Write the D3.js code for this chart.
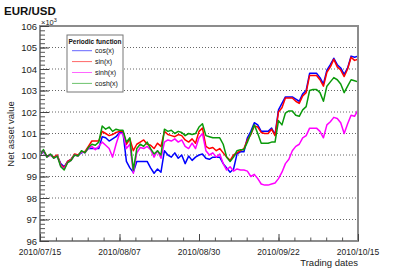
<!DOCTYPE html>
<html>
<head>
<meta charset="utf-8">
<script src="https://cdn.jsdelivr.net/npm/d3@7"></script>
<style>
  body { margin: 0; background: #fff; }
  svg { display: block; font-family: "Liberation Sans", Arial, Helvetica, sans-serif; }
</style>
</head>
<body>
<div id="chart"></div>
<script>
// trading dates, one per day from 2010/07/15 to 2010/10/15
const startDate = new Date(Date.UTC(2010, 6, 15));
const endDate = new Date(Date.UTC(2010, 9, 15));
const tradingDates = d3.utcDay.range(startDate, d3.utcDay.offset(endDate, 1));

const cosValues = [
  100.0, 100.15, 99.95, 100.0, 99.9, 99.95, 99.6, 99.45, 99.7, 99.8, 100.0, 100.0, 100.1, 100.15, 100.3, 100.3, 100.3, 100.3,
  100.85, 100.8, 100.65, 100.75, 100.85, 101.05, 101.05,
  99.7, 99.4, 99.2, 99.7, 99.7, 99.7, 99.7, 99.4, 99.15, 99.35, 99.2,
  100.2, 100.0, 99.9, 100.1, 99.85, 100.0, 99.6, 99.95, 99.75, 99.9, 100.0, 100.05,
  99.85, 99.8, 99.9, 99.9, 99.9, 99.6, 99.4, 99.2, 99.35, 100.05, 100.15, 100.15,
  100.8, 101.1, 101.5, 101.4, 101.1, 101.1, 101.1, 101.25, 100.95,
  102.1, 102.4, 102.7, 102.7, 102.7, 102.6, 102.5, 102.85, 103.0,
  103.8, 103.8, 103.8, 103.6, 103.3, 103.95, 104.2, 104.5, 104.2, 104.05, 103.75, 104.05, 104.6, 104.55, 104.6
];
const sinValues = [
  100.0, 100.2, 99.95, 100.0, 99.9, 100.0, 99.55, 99.4, 99.7, 99.8, 100.05, 100.0, 100.15, 100.15, 100.4, 100.65, 100.65, 100.65,
  101.1, 101.0, 100.9, 100.95, 101.05, 101.1, 101.1,
  100.5, 100.75, 100.2, 100.5, 100.6, 100.7, 100.5, 100.45, 100.3, 100.55, 100.4,
  101.1, 100.95, 100.9, 100.85, 100.95, 100.9, 100.7, 100.6, 100.75, 100.55, 101.1, 101.25,
  100.4, 100.3, 100.35, 100.2, 100.3, 100.1, 99.9, 99.75, 100.0, 100.1, 100.2, 100.3,
  100.7, 100.95, 101.35, 101.3, 101.05, 101.0, 101.0, 101.2, 100.9,
  102.0, 102.2, 102.65, 102.65, 102.65, 102.5, 102.4, 102.75, 102.9,
  103.7, 103.7, 103.7, 103.5, 103.2, 103.85, 104.1, 104.45, 104.1, 103.95, 103.65, 104.0, 104.55, 104.4, 104.45
];
const sinhValues = [
  100.0, 100.2, 99.9, 100.0, 99.85, 99.95, 99.5, 99.35, 99.65, 99.75, 100.0, 99.95, 100.15, 100.1, 100.3, 100.4, 100.25, 100.4,
  100.6, 100.45, 100.3, 99.9, 100.5, 101.0, 101.0,
  100.3, 100.5, 99.15, 100.1, 100.35, 100.3, 100.4, 100.25, 99.9, 100.2, 99.85,
  100.6, 100.7, 100.65, 100.75, 100.6, 100.7, 100.4, 100.3, 100.55, 100.3, 100.8, 101.0,
  100.2, 100.0, 100.1, 99.9, 100.05, 99.6, 99.3, 99.45, 99.25, 99.35, 99.3, 99.3,
  99.25, 99.0, 99.1, 98.9, 98.65, 98.6, 98.6, 98.65, 98.7,
  98.9, 99.2, 99.6, 99.8, 100.2, 100.4, 100.5, 100.8, 100.9,
  101.25, 101.25, 101.25, 101.1, 100.8, 101.4, 101.55, 101.75, 101.7, 101.5, 101.0, 101.45, 101.85, 101.8, 102.1
];
const coshValues = [
  100.0, 100.25, 99.9, 100.05, 99.85, 99.95, 99.45, 99.3, 99.65, 99.75, 100.0, 99.95, 100.2, 100.1, 100.35, 100.5, 100.45, 100.6,
  101.35, 101.2, 101.3, 101.1, 101.2, 101.15, 101.15,
  100.6, 100.8, 99.3, 100.3, 100.5, 100.4, 100.6, 100.3, 100.05, 100.2, 100.0,
  101.2, 101.1, 101.15, 101.0, 101.1, 101.05, 100.9, 101.0, 100.95, 101.0, 101.3, 101.45,
  100.9, 100.85, 100.8, 100.8, 100.8, 100.5, 99.9, 99.7, 99.9, 100.2, 100.25, 100.25,
  100.6, 101.0, 101.4, 101.0, 100.55, 100.55, 100.55, 100.6, 100.6,
  101.6, 101.4, 101.95, 102.05, 102.05, 101.85, 101.8, 102.1, 102.25,
  103.0, 103.05, 103.05, 102.9, 102.5, 103.2, 103.4, 103.6, 103.5, 103.3, 102.9, 103.2, 103.5, 103.45, 103.4
];

const seriesNames = ['cos(x)', 'sin(x)', 'sinh(x)', 'cosh(x)'];
const seriesValues = [cosValues, sinValues, sinhValues, coshValues];
const seriesColors = ['#0000ff', '#ff0000', '#ff00ff', '#0a9a0a'];
const yTickValues = [96, 97, 98, 99, 100, 101, 102, 103, 104, 105, 106];
const dateTickLabels = ['2010/07/15', '2010/08/07', '2010/08/30', '2010/09/22', '2010/10/15'];

const width = 399, height = 270;
const margin = {top: 26, right: 41, bottom: 29, left: 40};

const svg = d3.select('#chart').append('svg')
  .attr('width', width)
  .attr('height', height);

const x = d3.scaleUtc()
  .domain([startDate, endDate])
  .range([margin.left, width - margin.right]);
const y = d3.scaleLinear()
  .domain([96, 106])
  .range([height - margin.bottom, margin.top]);

// dotted horizontal grid
svg.append('g')
  .selectAll('line')
  .data(yTickValues.slice(1, -1))
  .enter().append('line')
  .attr('x1', margin.left).attr('x2', width - margin.right)
  .attr('y1', d => y(d)).attr('y2', d => y(d))
  .attr('stroke', '#666')
  .attr('stroke-width', 1)
  .attr('stroke-dasharray', '1,2');

// series
const line = d3.line()
  .x((d, i) => x(tradingDates[i]))
  .y(d => y(d));

seriesValues.forEach((vals, k) => {
  svg.append('path')
    .datum(vals)
    .attr('fill', 'none')
    .attr('stroke', seriesColors[k])
    .attr('stroke-width', 1.5)
    .attr('stroke-linejoin', 'round')
    .attr('d', line);
});

// frame
svg.append('rect')
  .attr('x', margin.left).attr('y', margin.top)
  .attr('width', width - margin.left - margin.right)
  .attr('height', height - margin.top - margin.bottom)
  .attr('fill', 'none')
  .attr('stroke', '#8c8c8c')
  .attr('stroke-width', 2);

// y axis
const yMinor = d3.range(96, 106.001, 0.2);
const yAxis = d3.axisRight(y)
  .tickValues(yMinor)
  .tickSize(5)
  .tickFormat('');
svg.append('g')
  .attr('transform', `translate(${margin.left},0)`)
  .call(yAxis)
  .call(g => g.select('.domain').remove())
  .call(g => g.selectAll('line').attr('stroke', '#555'));
svg.append('g')
  .attr('transform', `translate(${margin.left},0)`)
  .call(d3.axisRight(y).tickValues(yTickValues).tickSize(9).tickFormat(''))
  .call(g => g.select('.domain').remove())
  .call(g => g.selectAll('line').attr('stroke', '#444'));
svg.append('g')
  .selectAll('text')
  .data(yTickValues)
  .enter().append('text')
  .attr('x', margin.left - 3)
  .attr('y', d => y(d) + 3.5)
  .attr('text-anchor', 'end')
  .attr('font-size', 9.5)
  .attr('fill', '#222')
  .text(d => d);

// x axis
const totalDays = d3.utcDay.count(startDate, endDate);
const xMinor = d3.range(0, 21).map(i => new Date(+startDate + i * totalDays / 20 * 864e5));
const xMajor = dateTickLabels.map(s => d3.utcParse('%Y/%m/%d')(s));
svg.append('g')
  .attr('transform', `translate(0,${height - margin.bottom})`)
  .call(d3.axisTop(x).tickValues(xMinor).tickSize(3.5).tickFormat(''))
  .call(g => g.select('.domain').remove())
  .call(g => g.selectAll('line').attr('stroke', '#555'));
svg.append('g')
  .attr('transform', `translate(0,${height - margin.bottom})`)
  .call(d3.axisTop(x).tickValues(xMajor).tickSize(7).tickFormat(''))
  .call(g => g.select('.domain').remove())
  .call(g => g.selectAll('line').attr('stroke', '#444'));
svg.append('g')
  .selectAll('text')
  .data(xMajor)
  .enter().append('text')
  .attr('x', d => x(d))
  .attr('y', height - margin.bottom + 14)
  .attr('text-anchor', 'middle')
  .attr('font-size', 8.5)
  .attr('fill', '#222')
  .text(d => d3.utcFormat('%Y/%m/%d')(d));

// titles
svg.append('text')
  .attr('x', 4).attr('y', 14.5)
  .attr('font-size', 11.5)
  .attr('font-weight', 'bold')
  .attr('fill', '#111')
  .text('EUR/USD');

const exp = svg.append('text')
  .attr('x', margin.left + 1).attr('y', 25)
  .attr('font-size', 7.5)
  .attr('fill', '#222');
exp.append('tspan').text('×10');
exp.append('tspan').attr('dy', -3).attr('font-size', 5.5).text('3');

svg.append('text')
  .attr('transform', `translate(14,${134}) rotate(-90)`)
  .attr('text-anchor', 'middle')
  .attr('font-size', 9.5)
  .attr('fill', '#222')
  .text('Net asset value');

svg.append('text')
  .attr('x', width - margin.right)
  .attr('y', 266)
  .attr('text-anchor', 'end')
  .attr('font-size', 9.5)
  .attr('fill', '#222')
  .text('Trading dates');

// legend
const legend = svg.append('g').attr('transform', 'translate(67,35)');
legend.append('rect')
  .attr('width', 56).attr('height', 57)
  .attr('fill', '#fff')
  .attr('stroke', '#777')
  .attr('stroke-width', 1);
legend.append('text')
  .attr('x', 28).attr('y', 8.5)
  .attr('text-anchor', 'middle')
  .attr('font-size', 6.5)
  .attr('font-weight', 'bold')
  .attr('fill', '#111')
  .text('Periodic function');
seriesNames.forEach((name, k) => {
  const cy = 15.7 + k * 10.9;
  legend.append('line')
    .attr('x1', 5).attr('x2', 25)
    .attr('y1', cy).attr('y2', cy)
    .attr('stroke', seriesColors[k])
    .attr('stroke-opacity', 0.6)
    .attr('stroke-width', 1);
  legend.append('text')
    .attr('x', 28).attr('y', cy + 2.5)
    .attr('font-size', 7)
    .attr('fill', '#111')
    .text(name);
});
</script>
</body>
</html>
